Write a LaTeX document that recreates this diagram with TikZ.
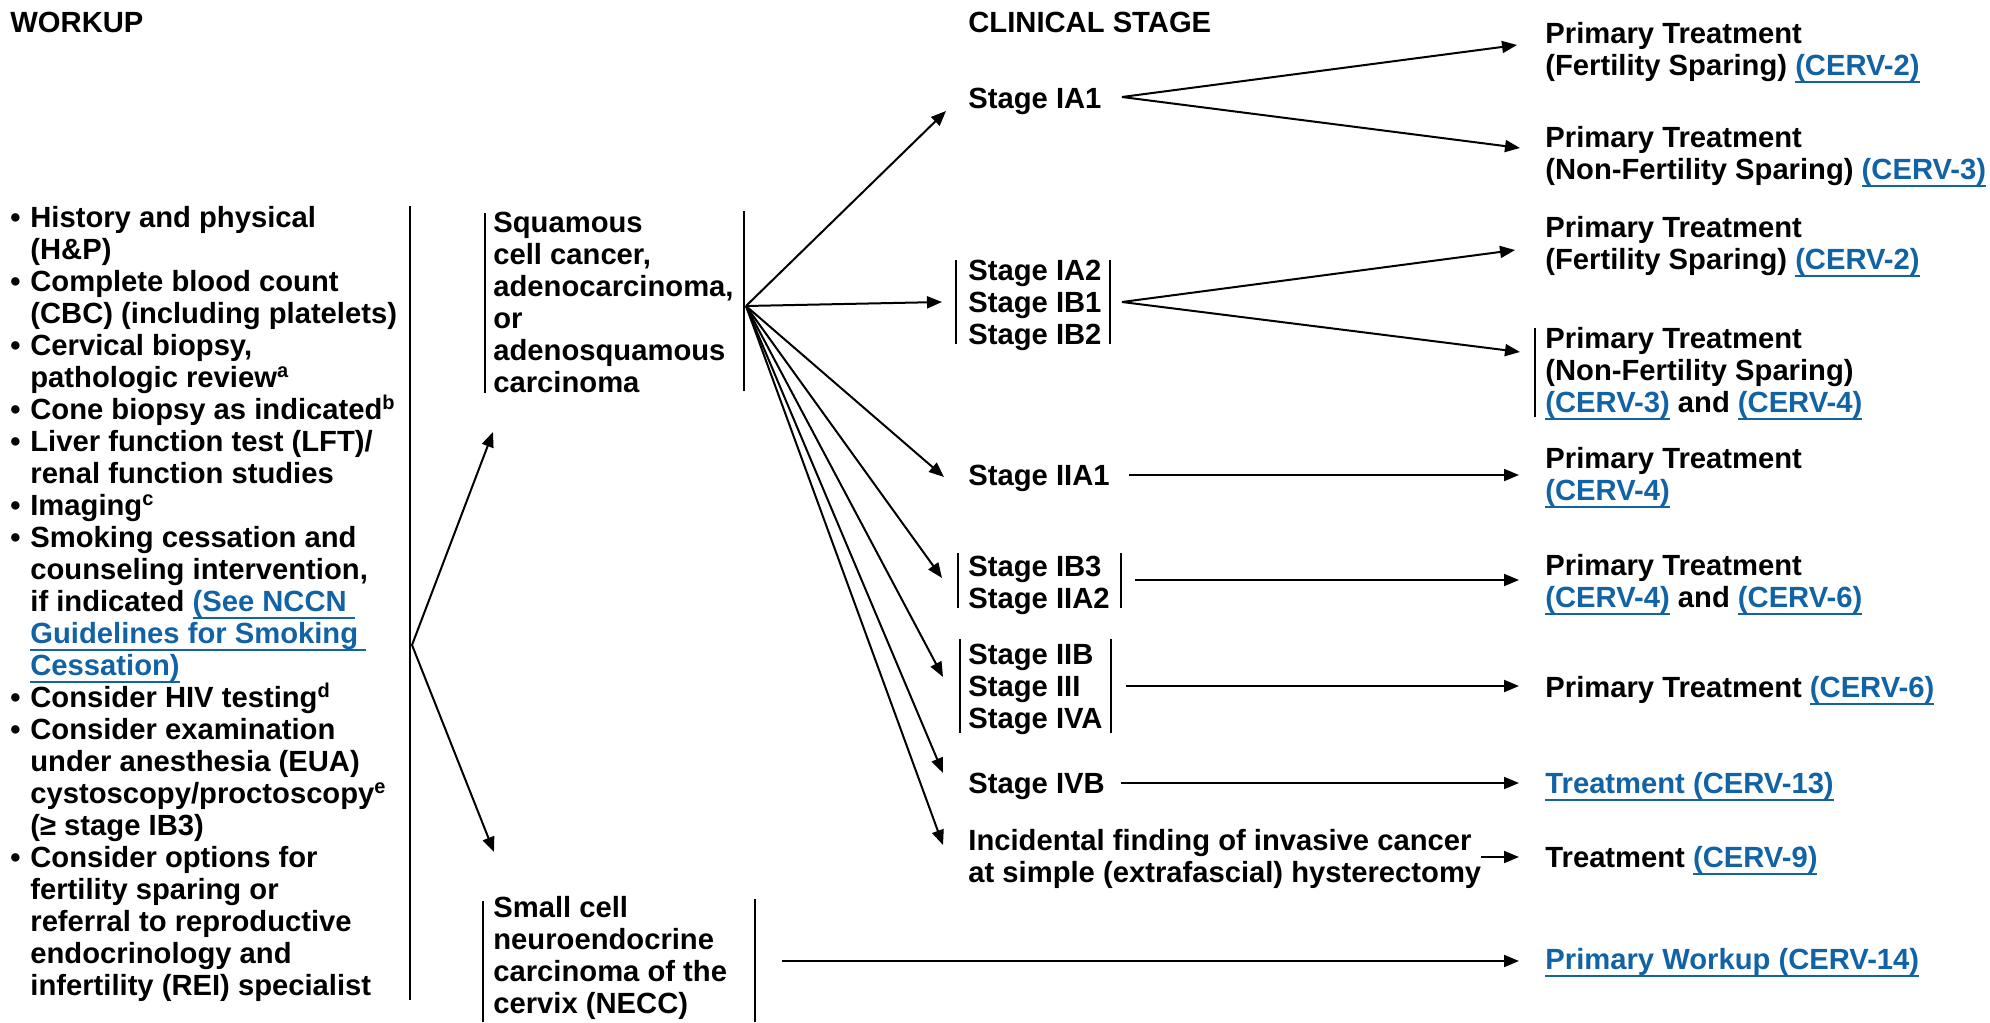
\documentclass[tikz,border=0pt]{standalone}
\usepackage{fontspec}
\setmainfont{Liberation Sans}
\usetikzlibrary{arrows.meta}
\definecolor{linkblue}{RGB}{18,99,166}
\newcommand{\dgfont}{\fontsize{14.6}{16}\selectfont\bfseries}
\newcommand{\lnk}[1]{\textcolor{linkblue}{\setbox0\hbox{#1}\rlap{\rule[-3.4pt]{\wd0}{0.9pt}}\box0}}
\newcommand{\bl}{\makebox[10pt][l]{•}}
\newcommand{\ind}{\hspace*{10pt}}
\newcommand{\sups}[1]{\raisebox{5pt}{\fontsize{10}{10}\selectfont #1}}
\begin{document}
\begin{tikzpicture}[x=0.5pt,y=-0.5pt,
  txt/.style={anchor=north west,inner sep=0pt,align=left,font=\dgfont},
  arr/.style={line width=1pt,-{Triangle[length=7.5pt,width=6pt]}},
  bar/.style={line width=1pt}]
\useasboundingbox (0,0) rectangle (1990,1022);

% headers
\node[txt] (hwork) at (10,10) {\strut WORKUP};
\node[txt] (hstage) at (968,10) {\strut CLINICAL STAGE};

% workup list
\node[txt] (work) at (10,205) {\strut\bl History and physical\\
\ind (H\&P)\\
\bl Complete blood count\\
\ind (CBC) (including platelets)\\
\bl Cervical biopsy,\\
\ind pathologic review\sups{a}\\
\bl Cone biopsy as indicated\sups{b}\\
\bl Liver function test (LFT)/\\
\ind renal function studies\\
\bl Imaging\sups{c}\\
\bl Smoking cessation and\\
\ind counseling intervention,\\
\ind if indicated \lnk{(See NCCN\ }\\
\ind \lnk{Guidelines for Smoking\ }\\
\ind \lnk{Cessation)}\\
\bl Consider HIV testing\sups{d}\\
\bl Consider examination\\
\ind under anesthesia (EUA)\\
\ind cystoscopy/proctoscopy\sups{e}\\
\ind (≥ stage IB3)\\
\bl Consider options for\\
\ind fertility sparing or\\
\ind referral to reproductive\\
\ind endocrinology and\\
\ind infertility (REI) specialist};
\draw[bar] (410,206) -- (410,1000);

% histology
\node[txt] (sq) at (493,210) {\strut Squamous\\cell cancer,\\adenocarcinoma,\\or\\adenosquamous\\carcinoma};
\draw[bar] (485,213) -- (485,393);
\draw[bar] (744,211) -- (744,391);
\node[txt] (sc) at (493,895) {\strut Small cell\\neuroendocrine\\carcinoma of the\\cervix (NECC)};
\draw[bar] (483,901) -- (483,1022);
\draw[bar] (755,899) -- (755,1022);

% stages
\node[txt] (ia1) at (968,86) {\strut Stage IA1};
\node[txt] (ia2) at (968,258) {\strut Stage IA2\\Stage IB1\\Stage IB2};
\draw[bar] (956,260) -- (956,344);
\draw[bar] (1110,260) -- (1110,344);
\node[txt] (iia1) at (968,463) {\strut Stage IIA1};
\node[txt] (ib3) at (968,554) {\strut Stage IB3\\Stage IIA2};
\draw[bar] (958,553) -- (958,608);
\draw[bar] (1121,553) -- (1121,608);
\node[txt] (iib) at (968,642) {\strut Stage IIB\\Stage III\\Stage IVA};
\draw[bar] (960,639) -- (960,733);
\draw[bar] (1111,639) -- (1111,733);
\node[txt] (ivb) at (968,771) {\strut Stage IVB};
\node[txt] (inc) at (968,828) {\strut Incidental finding of invasive cancer\\at simple (extrafascial) hysterectomy};

% treatments
\node[txt] (pt1) at (1545,21) {\strut Primary Treatment\\(Fertility Sparing) \lnk{(CERV-2)}};
\node[txt] (pt2) at (1545,125) {\strut Primary Treatment\\(Non-Fertility Sparing) \lnk{(CERV-3)}};
\node[txt] (pt3) at (1545,215) {\strut Primary Treatment\\(Fertility Sparing) \lnk{(CERV-2)}};
\node[txt] (pt4) at (1545,326) {\strut Primary Treatment\\(Non-Fertility Sparing)\\\lnk{(CERV-3)} and \lnk{(CERV-4)}};
\draw[bar] (1535,328) -- (1535,417);
\node[txt] (pt5) at (1545,446) {\strut Primary Treatment\\\lnk{(CERV-4)}};
\node[txt] (pt6) at (1545,553) {\strut Primary Treatment\\\lnk{(CERV-4)} and \lnk{(CERV-6)}};
\node[txt] (pt7) at (1545,675) {\strut Primary Treatment \lnk{(CERV-6)}};
\node[txt] (pt8) at (1545,771) {\strut\lnk{Treatment (CERV-13)}};
\node[txt] (pt9) at (1545,845) {\strut Treatment \lnk{(CERV-9)}};
\node[txt] (pt10) at (1545,947) {\strut\lnk{Primary Workup (CERV-14)}};

% connector points
\coordinate (wk) at (412,645);
\coordinate (wkA) at (493,432);
\coordinate (wkB) at (494,852);
\coordinate (fan) at (746,306);
\coordinate (e1) at (946,111);
\coordinate (e2) at (942,302);
\coordinate (e3) at (944,477);
\coordinate (e4) at (942,578);
\coordinate (e5) at (943,677);
\coordinate (e6) at (943,773);
\coordinate (e7) at (943,845);
\coordinate (f1) at (1122,97);
\coordinate (f1a) at (1517,45);
\coordinate (f1b) at (1520,148);
\coordinate (f2) at (1122,302);
\coordinate (f2a) at (1515,250);
\coordinate (f2b) at (1520,352);
\coordinate (h3s) at (1129,475); \coordinate (h3e) at (1519,475);
\coordinate (h4s) at (1135,580); \coordinate (h4e) at (1519,580);
\coordinate (h5s) at (1126,686); \coordinate (h5e) at (1519,686);
\coordinate (h6s) at (1121,783); \coordinate (h6e) at (1519,783);
\coordinate (h7s) at (1481,857); \coordinate (h7e) at (1519,857);
\coordinate (h8s) at (782,961);  \coordinate (h8e) at (1519,961);

\draw[arr] (wk) -- (wkA);
\draw[arr] (wk) -- (wkB);
\foreach \e in {e1,e2,e3,e4,e5,e6,e7} \draw[arr] (fan) -- (\e);
\draw[arr] (f1) -- (f1a);
\draw[arr] (f1) -- (f1b);
\draw[arr] (f2) -- (f2a);
\draw[arr] (f2) -- (f2b);
\draw[arr] (h3s) -- (h3e);
\draw[arr] (h4s) -- (h4e);
\draw[arr] (h5s) -- (h5e);
\draw[arr] (h6s) -- (h6e);
\draw[arr] (h7s) -- (h7e);
\draw[arr] (h8s) -- (h8e);
\end{tikzpicture}
\end{document}
